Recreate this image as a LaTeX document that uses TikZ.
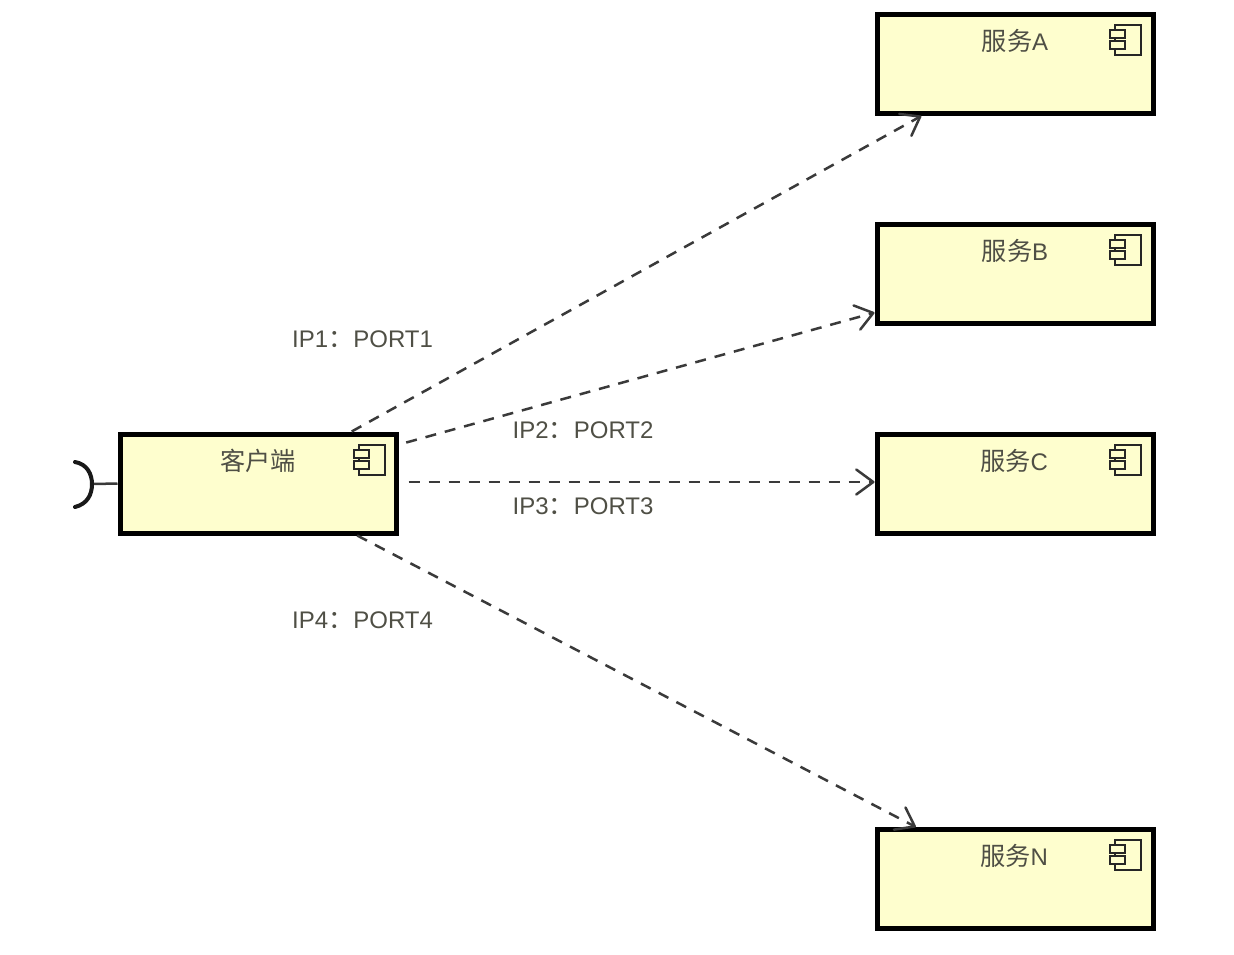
\documentclass[tikz,border=0pt]{standalone}
\usepackage{fontspec}
\setmainfont{Liberation Sans}
\newfontfamily\cjk{Noto Sans CJK SC}[Scale=1.05]
\usetikzlibrary{arrows.meta}
\definecolor{boxfill}{HTML}{FEFECE}
\definecolor{labelink}{HTML}{4F4F45}
\definecolor{wire}{HTML}{3A3A3A}
\tikzset{
  comp/.style={draw=black,fill=boxfill,line width=5pt,minimum width=276pt,minimum height=99pt,inner sep=0pt,outer sep=2.5pt},
  title/.style={text=labelink,font=\fontsize{24}{24}\selectfont,inner sep=0pt,anchor=center},
  dep/.style={draw=wire,line width=2.5pt,dash pattern=on 11pt off 9pt,-{Straight Barb[length=17pt,width=25pt,line width=2.5pt,round]}},
  iconline/.style={draw=black!85,line width=1.5pt,fill=boxfill}
}
\newcommand{\compicon}[2]{%
  \draw[iconline] (#1+5,#2-15) rectangle (#1+31,#2+15);
  \draw[iconline] (#1,#2-10) rectangle (#1+15,#2-2);
  \draw[iconline] (#1,#2+1) rectangle (#1+15,#2+9);
}
\begin{document}
\begin{tikzpicture}[x=1pt,y=-1pt]
\useasboundingbox (0,0) rectangle (1234,954);
\node[comp] (client) at (258,483.5) {};
\node[comp] (svcA) at (1015,64) {};
\node[comp] (svcB) at (1015,274) {};
\node[comp] (svcC) at (1015,483.5) {};
\node[comp] (svcN) at (1015,879) {};
\node[title] (tclient) at (258,461) {\cjk 客户端};
\node[title] (tA) at (1015,41) {\cjk 服务\rmfamily A};
\node[title] (tB) at (1015,251) {\cjk 服务\rmfamily B};
\node[title] (tC) at (1014,461) {\cjk 服务\rmfamily C};
\node[title] (tN) at (1014,856) {\cjk 服务\rmfamily N};
\compicon{354}{460}
\compicon{1110}{40}
\compicon{1110}{250}
\compicon{1110}{460}
\compicon{1110}{855}
\draw[dep] (client) -- (svcA);
\draw[dep,shorten <=8pt] (client) -- (svcB);
\draw[dep,shorten <=10pt] ([yshift=1.5pt]client.east) -- ([yshift=1.5pt]svcC.west);
\draw[dep] (client) -- (svcN);
\node[title] (l1) at (362.5,339) {IP1{\cjk ：}PORT1};
\node[title] (l2) at (583,430) {IP2{\cjk ：}PORT2};
\node[title] (l3) at (583,506) {IP3{\cjk ：}PORT3};
\node[title] (l4) at (362.5,620) {IP4{\cjk ：}PORT4};
\coordinate (sock) at (93,484);
\draw[wire,line width=2.5pt] (client.west) -- (sock);
\draw[black!90,line width=4pt,line cap=round] (75,462) .. controls (87,464) and (92,474) .. (92,484) .. controls (92,495) and (87,504) .. (75,507);
\end{tikzpicture}
\end{document}
